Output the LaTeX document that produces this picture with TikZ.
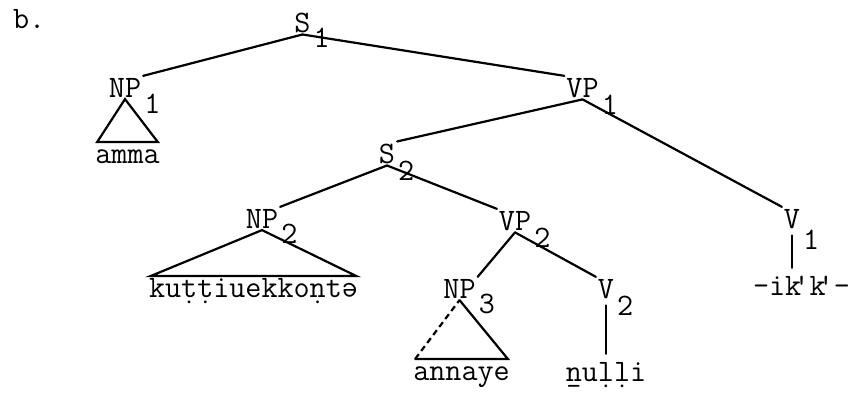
\documentclass[tikz,border=0pt]{standalone}
\usepackage{graphicx}
\newcommand{\schwa}{\rotatebox[origin=c]{180}{e}}
\begin{document}
\begin{tikzpicture}[x=1pt, y=-1pt, line width=2.2pt, line cap=round,
    every node/.style={font=\ttfamily\fontsize{31.2}{36}\selectfont},
    cat/.style={anchor=base, inner sep=1pt},
    idx/.style={anchor=base west, inner sep=0pt},
    leaf/.style={anchor=base, inner xsep=-3pt, inner ysep=0pt, text height=20pt}]

    \useasboundingbox (0,0) rectangle (853,394);

    % 1. 标号 b.
    \node[anchor=base west, inner sep=0pt] (tag) at (12,28) {b.};

    % 2. 范畴节点
    \node[cat] (s1) at (302.5,32) {S};
    \node[cat] (np1) at (125,97) {NP};
    \node[cat] (vp1) at (582.5,97) {VP};
    \node[cat] (s2) at (387,163) {S};
    \node[cat] (np2) at (262,228) {NP};
    \node[cat] (vp2) at (515,230) {VP};
    \node[cat] (np3) at (459.5,298) {NP};
    \node[cat] (v2) at (606,298) {V};
    \node[cat] (v1) at (792,228) {V};

    % 3. 下标
    \node[idx] (s1i) at ([yshift=-15pt]s1.base east) {1};
    \node[idx] (np1i) at ([yshift=-16pt]np1.base east) {1};
    \node[idx] (vp1i) at ([yshift=-17pt]vp1.base east) {1};
    \node[idx] (s2i) at ([yshift=-17pt]s2.base east) {2};
    \node[idx] (np2i) at ([yshift=-15pt]np2.base east) {2};
    \node[idx] (vp2i) at ([yshift=-17pt]vp2.base east) {2};
    \node[idx] (np3i) at ([yshift=-15pt]np3.base east) {3};
    \node[idx] (v2i) at ([yshift=-17pt]v2.base east) {2};
    \node[idx] (v1i) at ([yshift=-21pt]v1.base east) {1};

    % 4. 终端词
    \node[leaf] (amma) at (127.5,163) {amma};
    \node[leaf] (kutti) at (253.5,297) {ku\d{t}\d{t}iuekko\d{n}t\schwa};
    \node[leaf] (annaye) at (461.5,380) {annaye};
    \node[leaf] (nulli) at (606,381) {\b{n}u\d{l}\d{l}i};
    \node[leaf] (ikk) at (801.5,295) {-ik\kern-0.25em'k\kern-0.25em'-};

    % 5. 树枝
    \draw (s1.south) -- (np1.north east);
    \draw (s1.south) -- (vp1.north west);
    \draw (vp1.south) -- (s2.north east);
    \draw (vp1.south) -- (v1.north west);
    \draw (s2.south) -- (np2.north east);
    \draw (s2.south) -- (vp2.north west);
    \draw (vp2.south) -- (np3.north east);
    \draw (vp2.south) -- (v2.north west);
    \draw[shorten <=5pt, shorten >=6pt] (v1.south) -- (v1.south |- ikk.north);
    \draw[shorten <=5pt, shorten >=6pt] (v2.south) -- (nulli.north);

    % 6. 三角形
    \draw (np1.south) -- (amma.north east) -- (amma.north west) -- cycle;
    \draw (np2.south) -- (kutti.north east) -- (kutti.north west) -- cycle;
    \draw (np3.south) -- (annaye.north east) -- (annaye.north west);
    \draw[line cap=butt, dash pattern=on 6pt off 4pt] (annaye.north west) -- (np3.south);

\end{tikzpicture}
\end{document}
